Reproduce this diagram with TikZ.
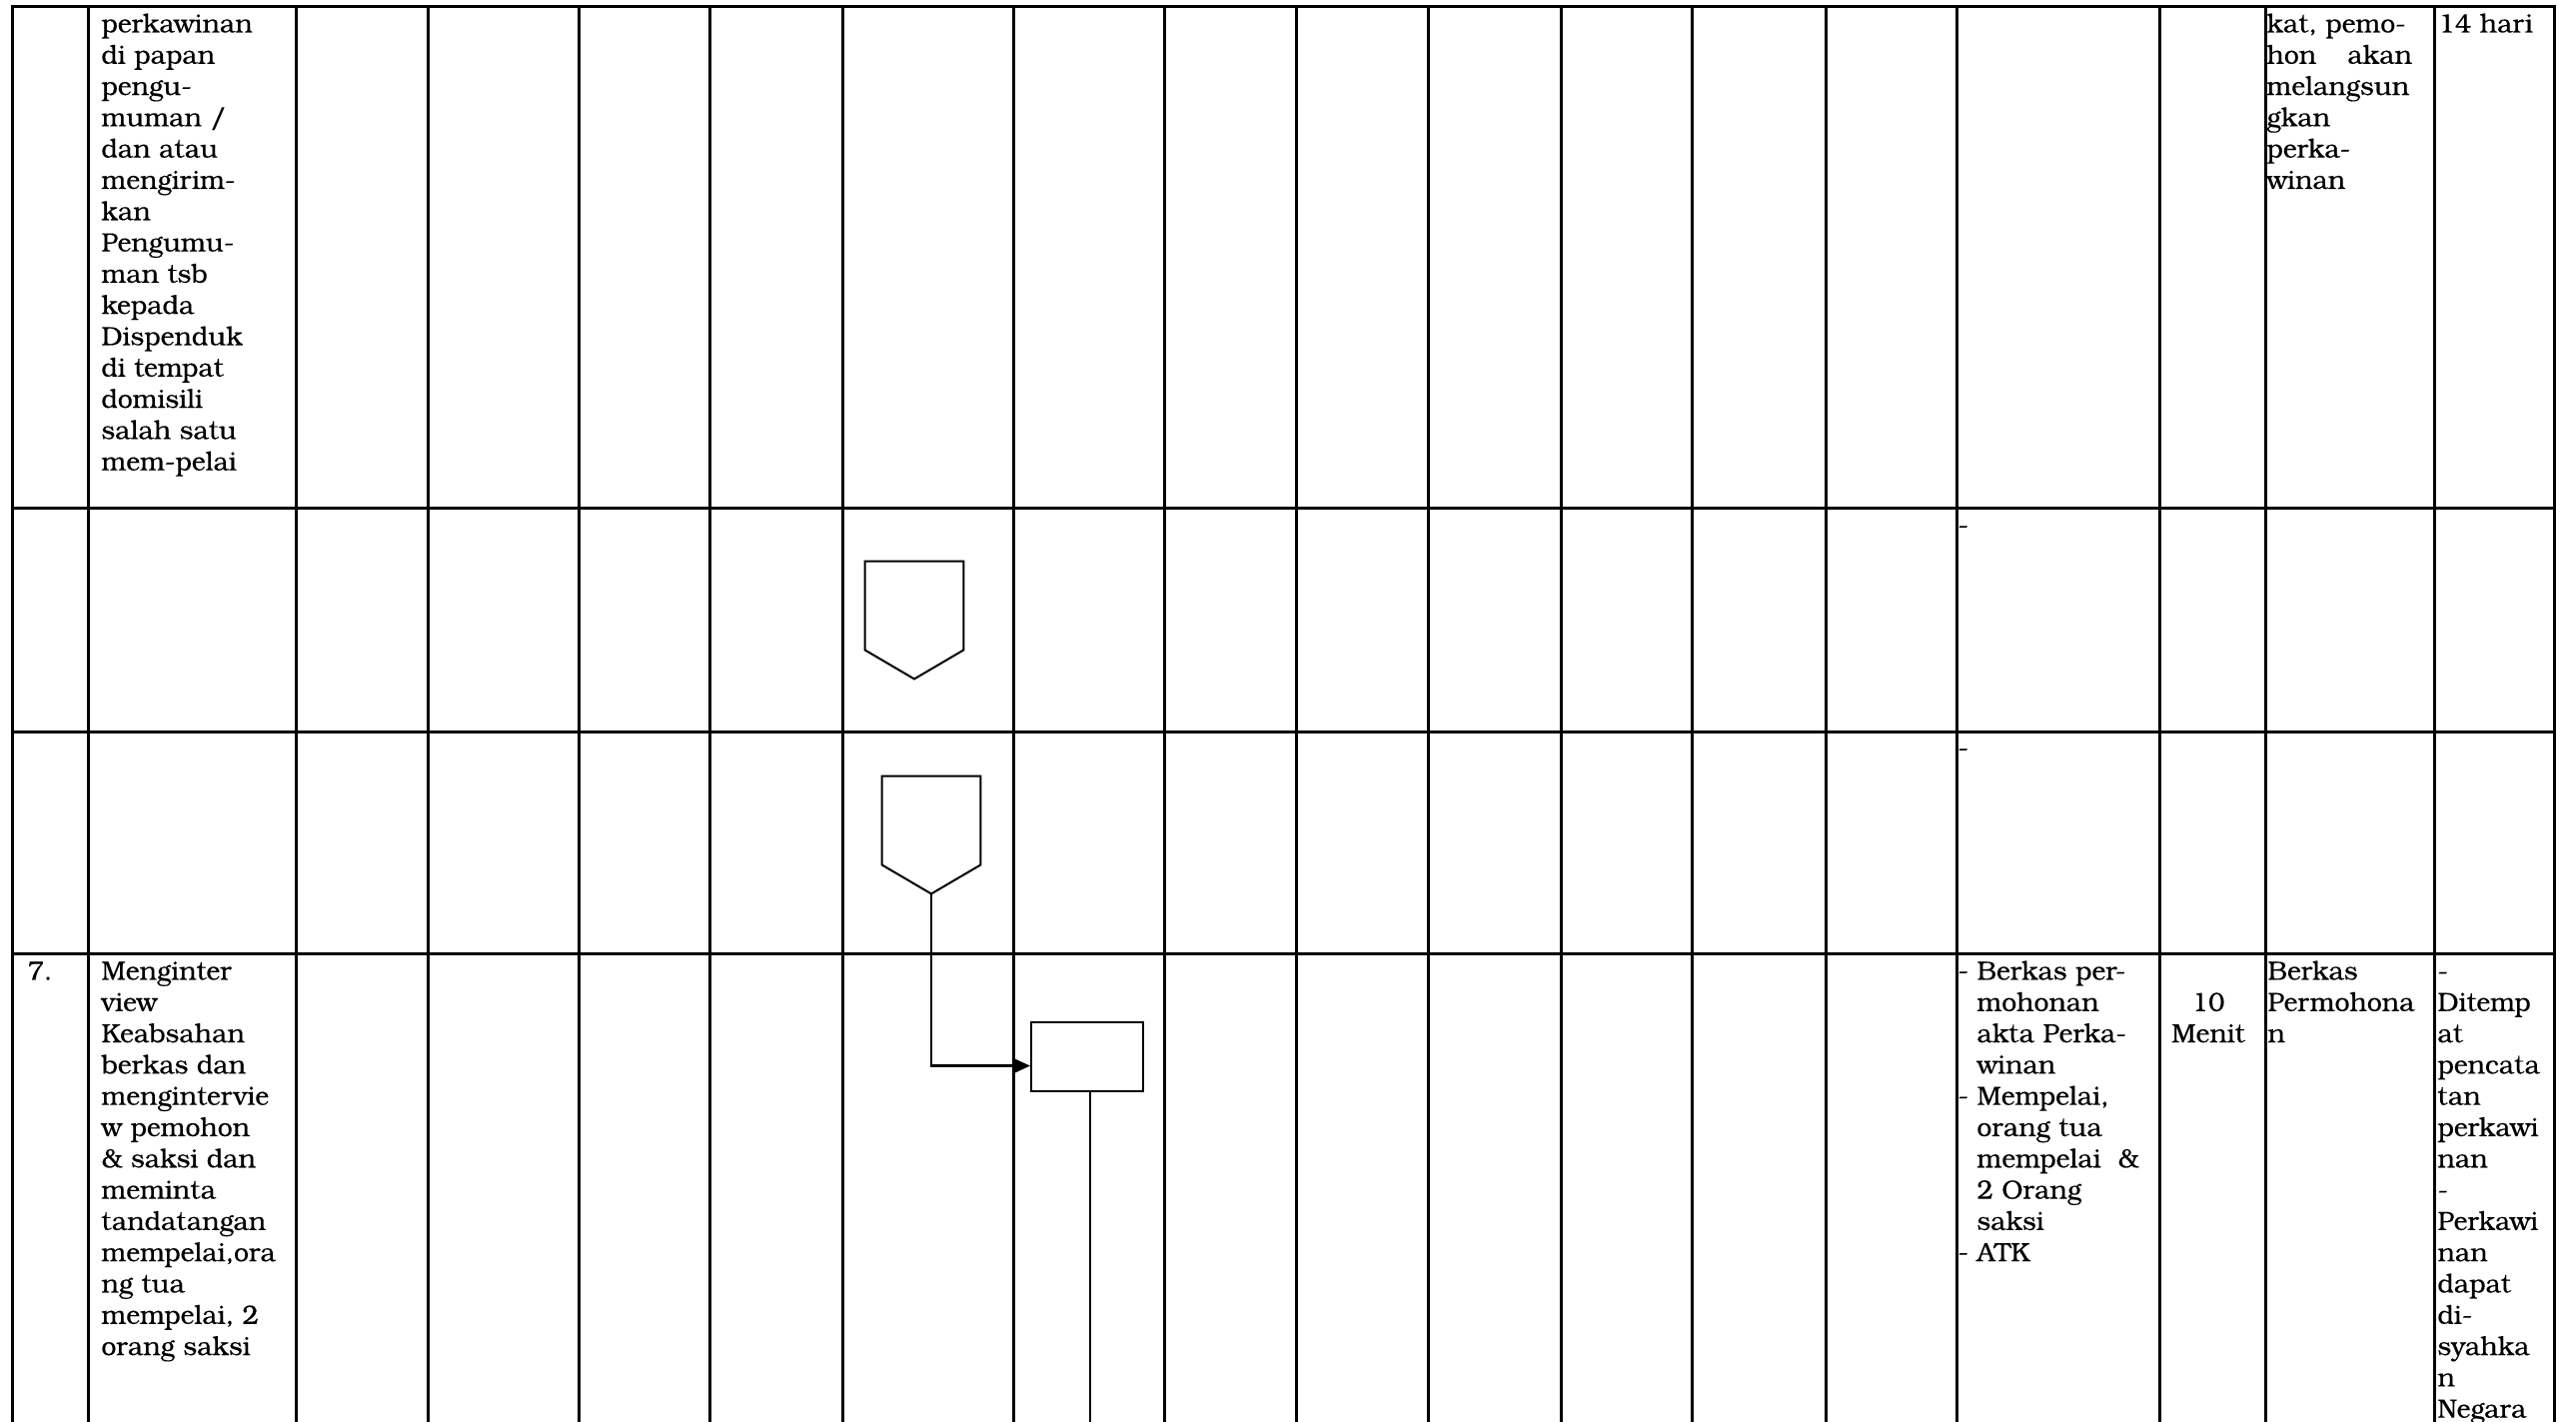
\documentclass[tikz,border=0pt]{standalone}
\usepackage{fontspec}
\setmainfont{TeX Gyre Bonum}[UprightFeatures={FakeBold=0.3}]
\usetikzlibrary{arrows.meta,calc}
\newcommand{\fl}{\rule{0pt}{10pt}}
\begin{document}
\begin{tikzpicture}[x=0.45pt,y=-0.45pt,
  gridline/.style={line width=1.35pt, line cap=rect},
  shapeline/.style={line width=0.9pt},
  conn/.style={line width=1.1pt},
  txt/.style={anchor=north west, inner sep=0pt, align=left, font=\fontsize{11.9}{14.085}\selectfont},
  ctxt/.style={anchor=north, inner sep=0pt, align=center, font=\fontsize{11.9}{14.085}\selectfont},
  btxt/.style={anchor=base west, inner sep=0pt, font=\fontsize{11.9}{14.085}\selectfont},
  ocbox/.style={draw=none, inner sep=0pt, minimum width=44.1pt, minimum height=52.65pt},
  procbox/.style={draw, shapeline, inner sep=0pt, minimum width=50.4pt, minimum height=31.05pt}
]
\useasboundingbox (0,0) rectangle (2578,1423);

% table grid
\draw[gridline] (12,1423) -- (12,7) -- (2556,7) -- (2556,1423);
\foreach \x in {88,296,428,579,710,843,1014,1165,1297,1429,1562,1693,1827,1958,2161,2267,2436}
  \draw[gridline] (\x,7) -- (\x,1423);
\foreach \y in {509,732,954}
  \draw[gridline] (12,\y) -- (2556,\y);

% row 1 (continued)
\node[txt] (r1c2) at (101,9.8) {\fl perkawinan\\di papan\\pengu-\\muman /\\dan atau\\mengirim-\\kan\\Pengumu-\\man tsb\\kepada\\Dispenduk\\di tempat\\domisili\\salah satu\\mem-pelai};
\node[txt] (r1c17) at (2268,9.8) {\fl kat, pemo-\\\makebox[65.5pt][s]{hon akan}\\melangsun\\gkan\\perka-\\winan};
\node[txt] (r1c18) at (2440,9.8) {\fl 14 hari};

% rows 5 and 6
\node[btxt] (r5c15) at (1959,534) {-};
\node[btxt] (r6c15) at (1959,757) {-};
\node[ocbox] (oc1) at (915,620.5) {};
\node[ocbox] (oc2) at (932,835.5) {};
\draw[shapeline] (oc1.north west) -- (oc1.north east) -- ([yshift=13.05pt]oc1.south east) -- (oc1.south) -- ([yshift=13.05pt]oc1.south west) -- cycle;
\draw[shapeline] (oc2.north west) -- (oc2.north east) -- ([yshift=13.05pt]oc2.south east) -- (oc2.south) -- ([yshift=13.05pt]oc2.south west) -- cycle;

% row 7
\node[txt] (r7c1) at (27,957.8) {\fl 7.};
\node[txt] (r7c2) at (101,957.8) {\fl Menginter\\view\\Keabsahan\\berkas dan\\mengintervie\\w pemohon\\\& saksi dan\\meminta\\tandatangan\\mempelai,ora\\ng tua\\mempelai, 2\\orang saksi};
\node[btxt] (r7h1) at (1959,980) {-};
\node[btxt] (r7h2) at (1959,1105.2) {-};
\node[btxt] (r7h3) at (1959,1261.7) {-};
\node[txt] (r7c15) at (1978,957.8) {\fl Berkas per-\\mohonan\\akta Perka-\\winan\\Mempelai,\\orang tua\\mempelai~~\&\\2 Orang\\saksi\\ATK};
\node[ctxt] (r7c16) at (2210,989.1) {\fl 10\\Menit};
\node[txt] (r7c17) at (2269,957.8) {\fl Berkas\\Permohona\\n};
\node[txt] (r7c18) at (2439,957.8) {\fl -\\Ditemp\\at\\pencata\\tan\\perkawi\\nan\\-\\Perkawi\\nan\\dapat\\di-\\syahka\\n\\Negara};

\node[procbox] (b1) at (1088,1057.7) {};
\coordinate (bottom) at (1091,1423);
\draw[conn, -{Triangle[length=7.2pt,width=6.3pt]}] (oc2.south) |- ([yshift=-4pt]b1.west);
\draw[conn] (b1.south -| bottom) -- (bottom);
\end{tikzpicture}
\end{document}
